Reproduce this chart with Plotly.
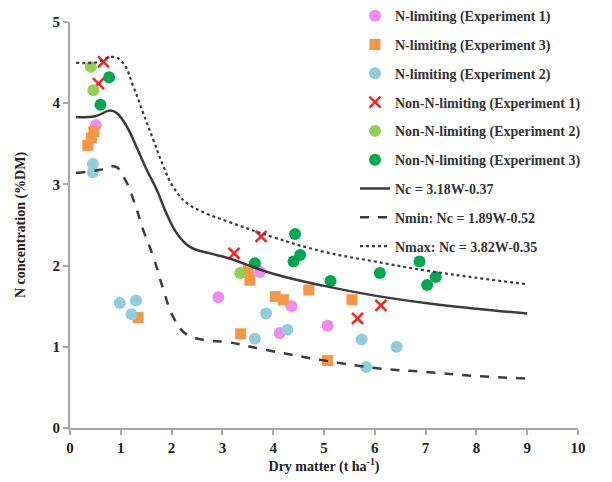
import plotly.graph_objects as go

# ---- data ----
nlim_e1_x = [0.51, 2.92, 3.74, 4.36, 4.13, 5.07]
nlim_e1_y = [3.73, 1.61, 1.92, 1.50, 1.17, 1.26]

nlim_e3_x = [0.35, 0.42, 0.47, 1.34, 3.51, 3.54, 4.04, 4.20, 4.70, 3.36, 5.55, 5.07]
nlim_e3_y = [3.48, 3.57, 3.65, 1.36, 1.95, 1.82, 1.62, 1.58, 1.70, 1.16, 1.58, 0.83]

nlim_e2_x = [0.45, 0.45, 0.98, 1.30, 1.21, 3.86, 3.64, 4.28, 5.74, 6.43, 5.83]
nlim_e2_y = [3.25, 3.15, 1.54, 1.57, 1.40, 1.41, 1.10, 1.21, 1.09, 1.00, 0.75]

non_e1_x = [0.66, 0.56, 3.23, 3.76, 6.12, 5.66]
non_e1_y = [4.51, 4.24, 2.15, 2.36, 1.51, 1.35]

non_e2_x = [0.41, 0.46, 3.35]
non_e2_y = [4.45, 4.16, 1.91]

non_e3_x = [0.77, 0.60, 3.64, 4.43, 4.40, 4.53, 5.13, 6.10, 6.88, 7.03, 7.20]
non_e3_y = [4.32, 3.98, 2.03, 2.39, 2.05, 2.13, 1.81, 1.91, 2.05, 1.76, 1.86]

nc_x = [0.12, 0.5, 0.79, 0.92, 1.12, 1.31, 1.51, 1.71, 1.90, 2.10, 2.36, 2.76, 3.12, 4, 5, 6, 7, 8, 9]
nc_y = [3.83, 3.84, 3.91, 3.88, 3.71, 3.46, 3.18, 2.93, 2.64, 2.40, 2.23, 2.15, 2.09, 1.90, 1.75, 1.63, 1.54, 1.47, 1.41]

nmax_x = [0.12, 0.5, 0.85, 1.05, 1.25, 1.44, 1.64, 1.84, 2.03, 2.30, 2.69, 3.12, 4, 5, 6, 7, 8, 9]
nmax_y = [4.50, 4.50, 4.57, 4.49, 4.20, 3.88, 3.55, 3.22, 2.97, 2.77, 2.64, 2.54, 2.35, 2.17, 2.05, 1.94, 1.85, 1.77]

nmin_x = [0.12, 0.59, 0.89, 1.05, 1.25, 1.44, 1.64, 1.84, 2.03, 2.30, 2.69, 3.08, 3.87, 4.92, 6, 7, 8, 9]
nmin_y = [3.14, 3.18, 3.22, 3.10, 2.81, 2.44, 2.11, 1.70, 1.37, 1.15, 1.08, 1.06, 0.96, 0.84, 0.74, 0.69, 0.64, 0.61]

x_ticks = list(range(0, 11))
y_ticks = list(range(0, 6))

SERIF = "Liberation Serif"
fig = go.Figure()

def scat(x, y, name, color, symbol, size, rank, line=None):
    mk = dict(color=color, symbol=symbol, size=size)
    if line:
        mk["line"] = line
    fig.add_trace(go.Scatter(x=x, y=y, mode="markers", name=name, marker=mk,
                             legendrank=rank, legendgroup=name))

scat(nlim_e1_x, nlim_e1_y, "N-limiting (Experiment 1)", "#f08cf0", "circle", 12, 1)
scat(nlim_e3_x, nlim_e3_y, "N-limiting (Experiment 3)", "#f79646", "square", 11, 2)
scat(nlim_e2_x, nlim_e2_y, "N-limiting (Experiment 2)", "#93cddd", "circle", 12, 3)
scat(non_e1_x, non_e1_y, "Non-N-limiting (Experiment 1)", "#ff2020", "x-thin-open", 11, 4,
     line=dict(color="#ff2020", width=2.5))
scat(non_e2_x, non_e2_y, "Non-N-limiting (Experiment 2)", "#92d050", "circle", 12, 5)
scat(non_e3_x, non_e3_y, "Non-N-limiting (Experiment 3)", "#00a850", "circle", 12, 6)

def curve(x, y, name, dash, width, rank):
    fig.add_trace(go.Scatter(x=x, y=y, mode="lines", name=name, legendrank=rank,
                             legendgroup=name,
                             line=dict(color="#3c3c3c", width=width, dash=dash,
                                       shape="spline", smoothing=1.2)))

curve(nc_x, nc_y, "Nc = 3.18W-0.37", "solid", 2.5, 7)
curve(nmin_x, nmin_y, "Nmin: Nc = 1.89W-0.52", "dash", 2.5, 8)
curve(nmax_x, nmax_y, "Nmax: Nc = 3.82W-0.35", "dot", 2.2, 9)

axis_font = dict(family=SERIF, size=15, color="#222222", weight="bold")
fig.update_layout(
    width=604, height=474,
    paper_bgcolor="white", plot_bgcolor="white",
    margin=dict(l=62, r=34, t=14, b=54, autoexpand=False),
    showlegend=True,
    legend=dict(x=0.561, y=1.054, xanchor="left", yanchor="top",
                maxheight=420,
                bgcolor="rgba(0,0,0,0)", traceorder="grouped", tracegroupgap=7.6,
                font=dict(family=SERIF, size=14, color="#333333", weight="bold")),
    xaxis=dict(range=[0, 10], tickvals=x_ticks, showgrid=False, zeroline=False,
               showline=True, linecolor="#a8a8a8", linewidth=2,
               ticks="outside", ticklen=5, tickcolor="#a8a8a8", tickwidth=2,
               tickfont=axis_font,
               title=dict(text="Dry matter (t ha<sup>-1</sup>)", standoff=6,
                          font=dict(family=SERIF, size=14, color="#222222", weight="bold"))),
    yaxis=dict(range=[0, 5], tickvals=y_ticks, showgrid=False, zeroline=False,
               showline=True, linecolor="#a8a8a8", linewidth=2,
               ticks="outside", ticklen=5, tickcolor="#a8a8a8", tickwidth=2,
               tickfont=axis_font,
               title=dict(text="N concentration (%DM)", standoff=24,
                          font=dict(family=SERIF, size=14, color="#222222", weight="bold"))),
)

fig.write_html("out.html")
